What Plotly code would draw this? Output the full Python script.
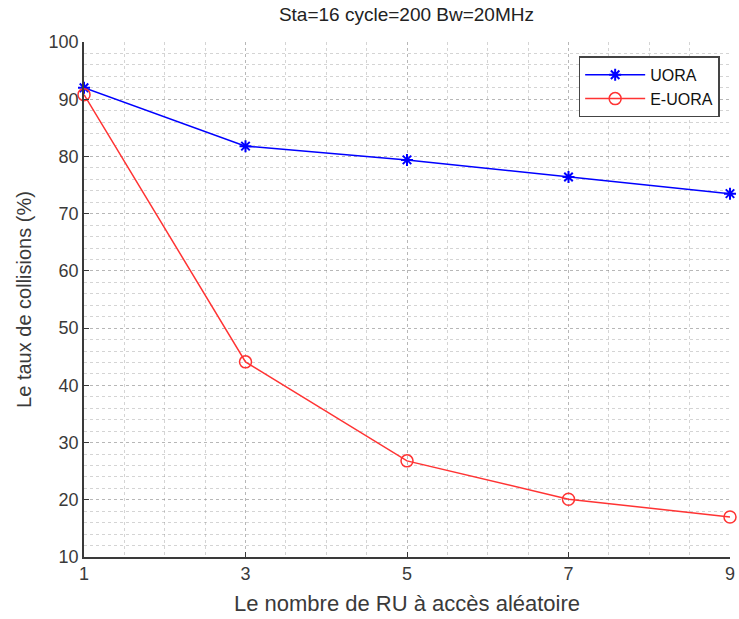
import plotly.graph_objects as go

x_ru = [1, 3, 5, 7, 9]
uora = [92.0, 81.8, 79.4, 76.4, 73.5]
euora = [90.8, 44.1, 26.8, 20.1, 17.0]
x_ticks = [1, 3, 5, 7, 9]
y_ticks = [10, 20, 30, 40, 50, 60, 70, 80, 90, 100]

title_text = "Sta=16 cycle=200 Bw=20MHz"
x_title = "Le nombre de RU à accès aléatoire"
y_title = "Le taux de collisions (%)"

FONT = "Liberation Sans, Arial, sans-serif"
AX = "#3a3a3a"
GRID = "rgba(120,120,120,0.32)"

fig = go.Figure()
fig.add_trace(go.Scatter(
    x=x_ru, y=uora, name="UORA", mode="lines+markers",
    line=dict(color="#0000ff", width=1.5),
    marker=dict(symbol="asterisk-open", size=10, color="#0000ff",
                line=dict(color="#0000ff", width=2)),
    cliponaxis=False,
))
fig.add_trace(go.Scatter(
    x=x_ru, y=euora, name="E-UORA", mode="lines+markers",
    line=dict(color="#ff3333", width=1.5),
    marker=dict(symbol="circle-open", size=12, color="#ff3333",
                line=dict(color="#ff3333", width=1.5)),
    cliponaxis=False,
))

fig.update_layout(
    width=739, height=619,
    margin=dict(l=84, r=4, t=42, b=62),
    paper_bgcolor="white", plot_bgcolor="white",
    font=dict(family=FONT, color=AX),
    title=dict(text=title_text, x=0.55, xanchor="center", xref="container",
               y=1, yref="container", yanchor="top", pad=dict(t=8),
               font=dict(size=19, color="#222")),
    showlegend=True,
    legend=dict(x=0.984, y=0.972, xanchor="right", yanchor="top",
                bgcolor="white", bordercolor="#444", borderwidth=1.5,
                itemwidth=60,
                font=dict(size=16, color="#111"), tracegroupgap=0),
)
fig.update_xaxes(
    range=[1, 9], tickmode="array", tickvals=x_ticks,
    ticktext=[str(v) for v in x_ticks], ticklabeloverflow="allow",
    showline=True, linecolor=AX, linewidth=1.5, mirror=False,
    ticks="inside", ticklen=5, tickcolor=AX, tickwidth=1,
    tickfont=dict(size=18, color=AX),
    showgrid=True, gridcolor=GRID, griddash="dot", gridwidth=1,
    minor=dict(dtick=0.5, tick0=1, showgrid=True, gridcolor=GRID,
               griddash="dot", gridwidth=1),
    zeroline=False,
    title=dict(text=x_title, font=dict(size=22, color=AX), standoff=12),
)
fig.update_yaxes(
    range=[10, 100], tickmode="array", tickvals=y_ticks,
    ticktext=[str(v) for v in y_ticks],
    showline=True, linecolor=AX, linewidth=1.5, mirror=False,
    ticks="inside", ticklen=5, tickcolor=AX, tickwidth=1,
    tickfont=dict(size=18, color=AX),
    showgrid=True, gridcolor=GRID, griddash="dot", gridwidth=1,
    minor=dict(dtick=2, tick0=10, showgrid=True, gridcolor=GRID,
               griddash="dot", gridwidth=1),
    zeroline=False,
    title=dict(text=y_title, font=dict(size=20, color=AX), standoff=12),
)

fig.write_html("out.html")
